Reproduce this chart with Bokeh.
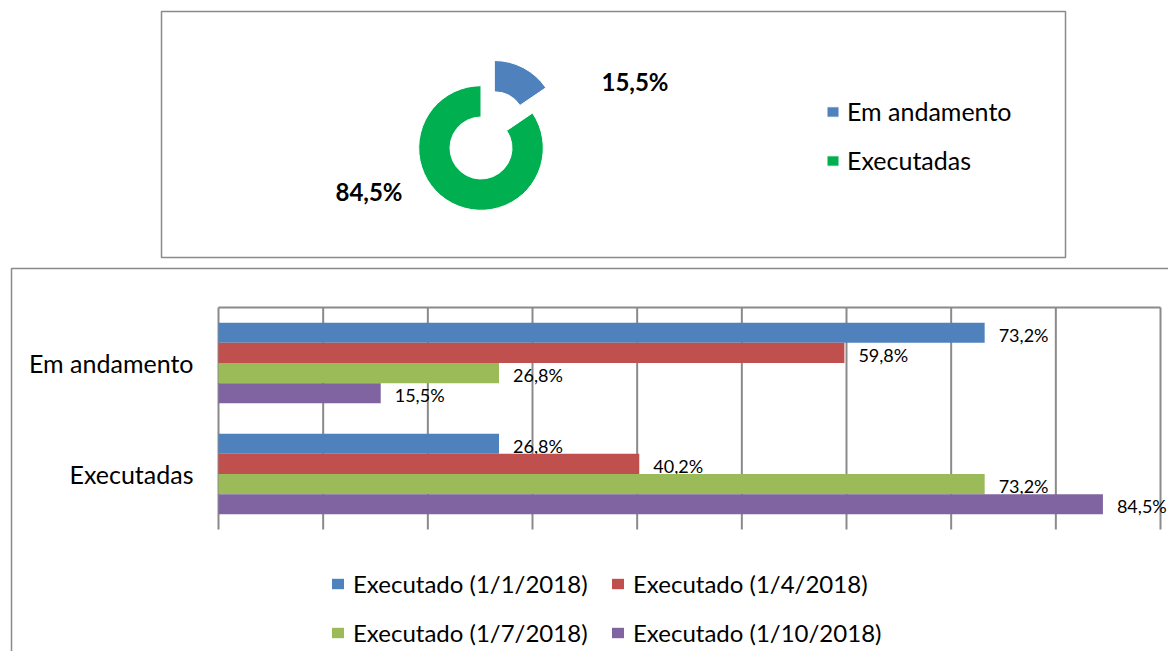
import math
from bokeh.plotting import figure
from bokeh.models import Range1d, Legend, LegendItem
from bokeh.core.properties import value
from bokeh.embed import file_html
from bokeh.resources import INLINE

# ---------------- data ----------------
categories = ["Em andamento", "Executadas"]
series_names = ["Executado (1/1/2018)", "Executado (1/4/2018)",
                "Executado (1/7/2018)", "Executado (1/10/2018)"]
em_andamento = [73.2, 59.8, 26.8, 15.5]
executadas = [26.8, 40.2, 73.2, 84.5]
x_ticks = [0, 10, 20, 30, 40, 50, 60, 70, 80, 90]

donut_labels = ["Em andamento", "Executadas"]
donut_values = [15.5, 84.5]

# ---------------- styles ----------------
FONT = "Lato"
bar_colors = ["#4F81BD", "#C0504D", "#9BBB59", "#8064A2"]
donut_colors = ["#4F81BD", "#00B050"]
frame_gray = "#8a8a8a"

W, H = 1168, 651
PLOT_L, PLOT_R = 218, 1160
PLOT_T, PLOT_B = 307, 529

def fmt(v):
    return f"{v:.1f}".replace(".", ",") + "%"

n_cat = len(categories)
kx = (PLOT_R - PLOT_L) / x_ticks[-1]
band = (PLOT_B - PLOT_T) / n_cat

p = figure(width=W, height=H,
           x_range=Range1d(-PLOT_L / kx, (W - PLOT_L) / kx),
           y_range=Range1d(-(H - PLOT_B) / band, n_cat + PLOT_T / band),
           x_axis_type=None, y_axis_type=None,
           output_backend="svg", toolbar_location=None,
           min_border=0, outline_line_color=None,
           background_fill_color="white", border_fill_color="white")
p.extra_x_ranges = {"px": Range1d(0, W), "pie": Range1d(0, W)}
p.extra_y_ranges = {"px": Range1d(H, 0), "pie": Range1d(0, H)}

# ---------------- boxes ----------------
p.quad(left=[161], right=[1065], top=[11], bottom=[257], fill_color=None,
       line_color=frame_gray, line_width=1.5, x_range_name="px", y_range_name="px")
p.quad(left=[11], right=[1400], top=[268], bottom=[900], fill_color=None,
       line_color=frame_gray, line_width=1.5, x_range_name="px", y_range_name="px")

# ---------------- donut ----------------
cx, cy = 480.5, H - 147.5
r_in, r_out = 31, 62.3
explode = [28.5, 0]
total = sum(donut_values)
cum = 0.0
wedges = []
for i, v in enumerate(donut_values):
    sweep = v / total * 2 * math.pi
    start = math.pi / 2 - cum
    end = start - sweep
    mid = start - sweep / 2
    ox = cx + explode[i] * math.cos(mid)
    oy = cy + explode[i] * math.sin(mid)
    r = p.annular_wedge(x=[ox], y=[oy], inner_radius=r_in, outer_radius=r_out,
                        start_angle=[start], end_angle=[end], direction="clock",
                        fill_color=donut_colors[i], line_color="white", line_width=1,
                        x_range_name="pie", y_range_name="pie")
    wedges.append(r)
    cum += sweep

label_off = [(154, 67), (-112, -43)]
p.text(x=[cx + d[0] for d in label_off], y=[cy + d[1] for d in label_off],
       text=[fmt(v) for v in donut_values], text_align="center", text_baseline="middle",
       text_font=value(FONT), text_font_style="bold", text_font_size="24px",
       text_color="black", x_range_name="pie", y_range_name="pie")

# legend of the donut: first item centred at y=111, items 49 px apart
leg1 = Legend(items=[LegendItem(label=donut_labels[i], renderers=[wedges[i]])
                     for i in range(len(donut_labels))],
              location=(825, H - (111 - 20 + 89)), orientation="vertical",
              glyph_width=15, glyph_height=13, label_standoff=7, label_height=40,
              spacing=9, padding=0, margin=0, border_line_color=None,
              background_fill_alpha=0, label_text_font=FONT,
              label_text_font_size="25px", label_text_color="black")
p.add_layout(leg1)

# ---------------- bar chart ----------------
p.segment(x0=x_ticks, x1=x_ticks, y0=[0] * len(x_ticks), y1=[n_cat] * len(x_ticks),
          line_color=frame_gray, line_width=2)
p.segment(x0=[x_ticks[0]], x1=[x_ticks[-1]], y0=[n_cat], y1=[n_cat],
          line_color=frame_gray, line_width=2)

bh = 1 / 5.5
values_by_cat = [em_andamento, executadas]
bar_renderers = []
for i in range(len(series_names)):
    ys = [n_cat - 0.5 - c + (1.5 - i) * bh for c in range(n_cat)]
    vals = [values_by_cat[c][i] for c in range(n_cat)]
    r = p.hbar(y=ys, left=0, right=vals, height=bh, fill_color=bar_colors[i],
               line_color=None)
    bar_renderers.append(r)
    p.text(x=vals, y=ys, text=[fmt(v) for v in vals], x_offset=14, y_offset=2,
           text_align="left", text_baseline="middle", text_font=value(FONT),
           text_font_size="18px", text_color="black")

p.text(x=[0] * n_cat, y=[n_cat - 0.5 - c for c in range(n_cat)], text=categories,
       x_offset=-25, text_align="right", text_baseline="middle",
       text_font=value(FONT), text_font_size="25px", text_color="black")

rows = [(0, 1), (2, 3)]
row_centers = [583, 632]
for row, yc in zip(rows, row_centers):
    lg = Legend(items=[LegendItem(label=series_names[i], renderers=[bar_renderers[i]])
                       for i in row],
                location=(330, H - yc - 20), orientation="horizontal",
                glyph_width=15, glyph_height=13, label_standoff=8, label_width=250,
                label_height=40, spacing=7, padding=0, margin=0,
                border_line_color=None, background_fill_alpha=0,
                label_text_font=FONT, label_text_font_size="24px",
                label_text_color="black")
    p.add_layout(lg)

open("out.html", "w").write(file_html(p, INLINE))
